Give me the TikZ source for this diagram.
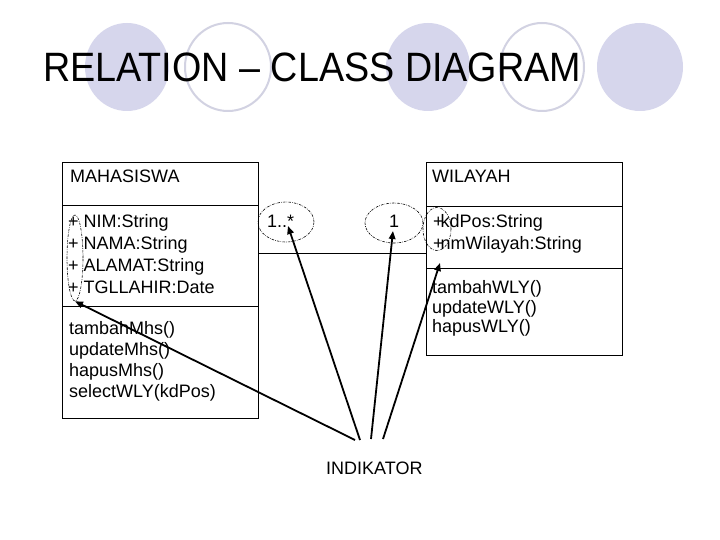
\documentclass[tikz,border=0pt]{standalone}
\usepackage{fontspec}
\setmainfont{Liberation Sans}
\usetikzlibrary{arrows.meta,shapes.geometric}
\definecolor{lav}{RGB}{214,214,236}
\definecolor{lavline}{RGB}{210,210,226}
\begin{document}
\begin{tikzpicture}[x=1pt,y=-1pt,
  umlbox/.style={draw=black,line width=1pt,inner sep=0pt,anchor=north west},
  txt/.style={font=\fontsize{18}{21}\selectfont,inner sep=0pt,anchor=base west},
  dashell/.style={draw=black,ellipse,line width=0.6pt,dash pattern=on 2.5pt off 1.2pt on 0.6pt off 1.2pt,inner sep=0pt},
  bgfill/.style={fill=lav,draw=none},
  bgline/.style={draw=lavline,line width=2pt},
  pointer/.style={draw=black,line width=1.8pt,-{Triangle[length=8pt,width=6.5pt]}}]
\useasboundingbox (0,0) rectangle (720,540);
\fill[white] (0,0) rectangle (720,540);
% background circles
\path[bgfill] (127,67) ellipse [x radius=42,y radius=44];
\path[bgline] (228,67) ellipse [x radius=43,y radius=44];
\path[bgfill] (428,67) ellipse [x radius=42,y radius=44];
\path[bgline] (542,67) ellipse [x radius=42,y radius=44];
\path[bgfill] (640,67) ellipse [x radius=43,y radius=44];
% title
\node[font=\fontsize{41}{48}\selectfont,anchor=base west,inner sep=0pt,xscale=0.92] (title) at (43,82) {RELATION – CLASS DIAGRAM};
% MAHASISWA box
\node[umlbox,minimum width=196pt,minimum height=256pt] (mah) at (62,162) {};
\draw[line width=1pt] (62,206) -- (258,206);
\draw[line width=1pt] (62,306) -- (258,306);
\node[txt] (mahname) at (70,183) {MAHASISWA};
\node[txt] (ma1) at (68,227) {+ NIM:String};
\node[txt] (ma2) at (68,249) {+ NAMA:String};
\node[txt] (ma3) at (68,271) {+ ALAMAT:String};
\node[txt] (ma4) at (68,293) {+ TGLLAHIR:Date};
\node[txt] (mm1) at (69,334) {tambahMhs()};
\node[txt] (mm2) at (69,355) {updateMhs()};
\node[txt] (mm3) at (69,376) {hapusMhs()};
\node[txt] (mm4) at (69,397) {selectWLY(kdPos)};
% WILAYAH box
\node[umlbox,minimum width=196pt,minimum height=193pt] (wil) at (426,162) {};
\draw[line width=1pt] (426,207) -- (622,207);
\draw[line width=1pt] (426,268) -- (622,268);
\node[txt] (wilname) at (432,183) {WILAYAH};
\node[txt] (wa1) at (433,227) {+\kern-3pt kdPos:String};
\node[txt] (wa2) at (433,249) {+\kern-3pt nmWilayah:String};
\node[txt] (wm1) at (432,293) {tambahWLY()};
\node[txt] (wm2) at (432,313) {updateWLY()};
\node[txt] (wm3) at (432,332) {hapusWLY()};
% association
\coordinate (aL) at (258,253);
\coordinate (aR) at (426,253);
\draw[line width=1pt] (aL) -- (aR);
\node[txt] (m1) at (267,227) {1..*};
\node[txt] (m2) at (389,227) {1};
% dashed ellipses
\node[dashell,minimum width=16pt,minimum height=86pt] (e1) at (75,258) {};
\node[dashell,minimum width=56pt,minimum height=40pt] (e2) at (286,222) {};
\node[dashell,minimum width=58pt,minimum height=40pt] (e3) at (394,223) {};
\node[dashell,minimum width=28pt,minimum height=43pt] (e4) at (437,229) {};
% indikator
\node[txt] (ind) at (326,474) {INDIKATOR};
\coordinate (o1) at (355,440);
\coordinate (o2) at (360,440);
\coordinate (o3) at (371,439);
\coordinate (o4) at (383,439);
\coordinate (t2) at (288,226);
\coordinate (t3) at (393,231);
\coordinate (t4) at (440,263);
\draw[pointer] (o1) -- (e1.south);
\draw[pointer] (o2) -- (t2);
\draw[pointer] (o3) -- (t3);
\draw[pointer] (o4) -- (t4);
\end{tikzpicture}
\end{document}
